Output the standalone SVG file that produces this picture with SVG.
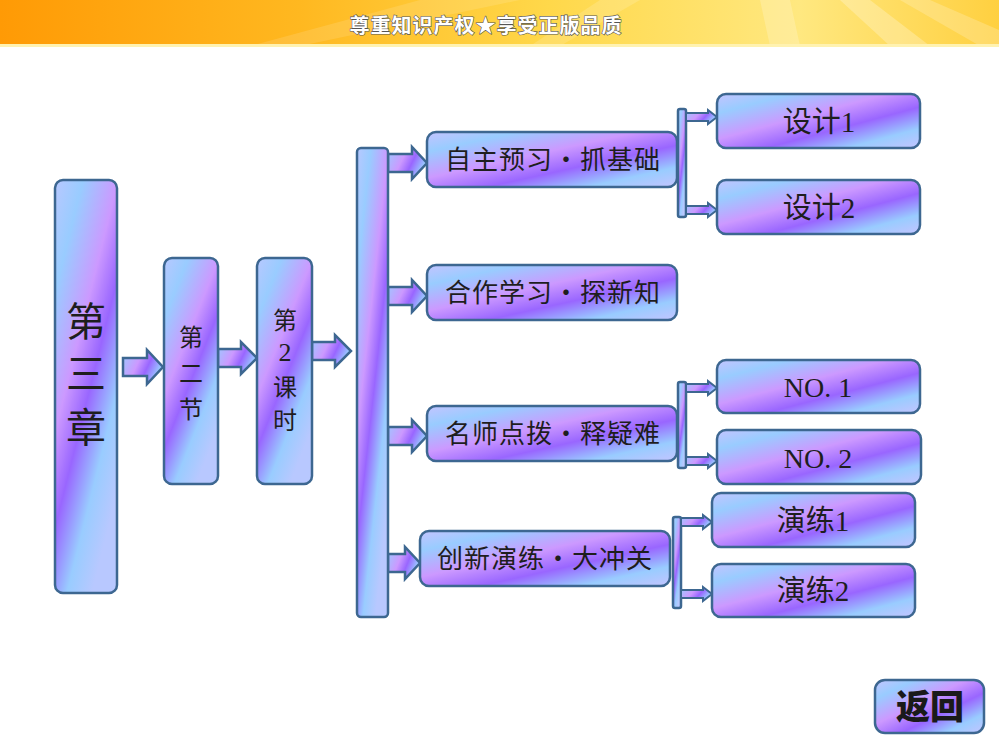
<svg xmlns="http://www.w3.org/2000/svg" width="999" height="750" viewBox="0 0 999 750">
<defs>
<linearGradient id="hdr" x1="0" y1="0" x2="1" y2="0">
<stop offset="0" stop-color="#ff9a05"/>
<stop offset="0.3" stop-color="#ffb820"/>
<stop offset="0.55" stop-color="#ffd84a"/>
<stop offset="0.8" stop-color="#ffe880"/>
<stop offset="1" stop-color="#ffd040"/>
</linearGradient>
<linearGradient id="g" x1="0" y1="0" x2="1" y2="1">
<stop offset="0" stop-color="#c4c4ff"/>
<stop offset="0.18" stop-color="#99ccff"/>
<stop offset="0.42" stop-color="#cc99ff"/>
<stop offset="0.62" stop-color="#9966ff"/>
<stop offset="0.82" stop-color="#99ccff"/>
<stop offset="1" stop-color="#c4c4ff"/>
</linearGradient>
<linearGradient id="gv" x1="0" y1="0" x2="0.6" y2="1">
<stop offset="0" stop-color="#b8c8ff"/>
<stop offset="0.2" stop-color="#99ccff"/>
<stop offset="0.45" stop-color="#cc99ff"/>
<stop offset="0.62" stop-color="#9966ff"/>
<stop offset="0.82" stop-color="#99ccff"/>
<stop offset="1" stop-color="#b8c8ff"/>
</linearGradient>
<linearGradient id="ga" x1="0" y1="0" x2="1" y2="0.4">
<stop offset="0" stop-color="#99ccff"/>
<stop offset="0.45" stop-color="#cc99ff"/>
<stop offset="0.7" stop-color="#9966ff"/>
<stop offset="1" stop-color="#99ccff"/>
</linearGradient>
<style>
.box{fill:url(#g);stroke:#3d6791;stroke-width:2.5}
.bar{fill:url(#gv);stroke:#3d6791;stroke-width:2.5}
.arr{fill:url(#ga);stroke:#3d6791;stroke-width:2.5;stroke-linejoin:miter}
.sarr{fill:url(#ga);stroke:#3d6791;stroke-width:2}
.t{font-family:"Liberation Serif","Noto Sans CJK SC",serif;fill:#1e1e1e;text-anchor:middle}
.lab{font-size:26px;letter-spacing:1px}
.sub{font-size:29px}
.hdrt{font-family:"Noto Sans CJK SC",sans-serif;font-weight:bold;font-size:20px;fill:#ffffff;stroke:#555;stroke-width:1.2;paint-order:stroke;text-anchor:middle}
</style>
</defs>
<rect width="999" height="750" fill="#ffffff"/>
<g id="header">
<rect x="0" y="0" width="999" height="46" fill="url(#hdr)"/>
<polygon points="420,0 520,0 300,46 250,46" fill="#ffffff" opacity="0.12"/>
<polygon points="600,0 640,0 560,46 530,46" fill="#ffffff" opacity="0.15"/>
<polygon points="760,0 790,0 800,46 770,46" fill="#ffffff" opacity="0.2"/>
<polygon points="840,0 870,0 930,46 890,46" fill="#ffffff" opacity="0.25"/>
<polygon points="900,0 930,0 999,30 999,46 980,46" fill="#ffffff" opacity="0.2"/>
<rect x="0" y="44" width="999" height="3" fill="#fff2b0"/>
<text class="hdrt" x="486" y="33" letter-spacing="1">尊重知识产权★享受正版品质</text>
</g>
<g id="connectors">
<path class="arr" d="M123 358 H147 V350 L163 367 L147 384 V376 H123 Z"/>
<path class="arr" d="M218 349 H241 V342 L257 358 L241 374 V367 H218 Z"/>
<path class="arr" d="M312 342 H335 V335 L351 351 L335 367 V360 H312 Z"/>
<path class="arr" d="M388 154 H412 V147 L427 163 L412 179 V172 H388 Z"/>
<path class="arr" d="M388 287 H412 V280 L427 296 L412 312 V305 H388 Z"/>
<path class="arr" d="M388 427 H412 V420 L427 436 L412 452 V445 H388 Z"/>
<path class="arr" d="M388 554 H405 V547 L420 563 L405 579 V572 H388 Z"/>
<rect class="bar" x="678" y="109" width="8" height="108" rx="2"/>
<rect class="bar" x="678" y="382" width="8" height="86" rx="2"/>
<rect class="bar" x="673" y="517" width="8" height="91" rx="2"/>
<path class="sarr" d="M686 113 H708 V110 L717 117 L708 124 V121 H686 Z"/>
<path class="sarr" d="M686 206 H708 V203 L717 210 L708 217 V214 H686 Z"/>
<path class="sarr" d="M686 384 H708 V381 L717 388 L708 395 V392 H686 Z"/>
<path class="sarr" d="M686 457 H708 V454 L717 461 L708 468 V465 H686 Z"/>
<path class="sarr" d="M681 518 H703 V515 L712 522 L703 529 V526 H681 Z"/>
<path class="sarr" d="M681 590 H703 V587 L712 594 L703 601 V598 H681 Z"/>
</g>
<g id="n-chapter">
<rect class="bar" x="55" y="180" width="62" height="413" rx="8"/>
<text class="t" font-size="40" x="86" y="336">第</text>
<text class="t" font-size="40" x="86" y="388">三</text>
<text class="t" font-size="40" x="86" y="442">章</text>
</g>
<g id="n-section">
<rect class="bar" x="164" y="258" width="54" height="226" rx="8"/>
<text class="t" font-size="24" x="191" y="346">第</text>
<text class="t" font-size="24" x="191" y="382">二</text>
<text class="t" font-size="24" x="191" y="418">节</text>
</g>
<g id="n-lesson">
<rect class="bar" x="257" y="258" width="55" height="226" rx="8"/>
<text class="t" font-size="24" x="285" y="329">第</text>
<text class="t" font-size="26" x="285" y="361">2</text>
<text class="t" font-size="24" x="285" y="396">课</text>
<text class="t" font-size="24" x="285" y="429">时</text>
</g>
<g id="n-bar">
<rect class="bar" x="357" y="148" width="31" height="469" rx="4"/>
</g>
<g id="n-zizhu">
<rect class="box" x="427" y="132" width="250" height="55" rx="9"/>
<text class="t lab" x="553" y="169">自主预习・抓基础</text>
</g>
<g id="n-hezuo">
<rect class="box" x="427" y="265" width="250" height="55" rx="9"/>
<text class="t lab" x="553" y="302">合作学习・探新知</text>
</g>
<g id="n-mingshi">
<rect class="box" x="427" y="406" width="250" height="55" rx="9"/>
<text class="t lab" x="553" y="443">名师点拨・释疑难</text>
</g>
<g id="n-chuangxin">
<rect class="box" x="420" y="531" width="250" height="55" rx="9"/>
<text class="t lab" x="545" y="568">创新演练・大冲关</text>
</g>
<g id="n-sheji1">
<rect class="box" x="717" y="94" width="203" height="54" rx="9"/>
<text class="t sub" x="819" y="132">设计1</text>
</g>
<g id="n-sheji2">
<rect class="box" x="717" y="180" width="203" height="54" rx="9"/>
<text class="t sub" x="819" y="218">设计2</text>
</g>
<g id="n-no1">
<rect class="box" x="717" y="360" width="203" height="53" rx="9"/>
<text class="t" font-size="28" x="818" y="397">NO. 1</text>
</g>
<g id="n-no2">
<rect class="box" x="717" y="430" width="204" height="54" rx="9"/>
<text class="t" font-size="28" x="818" y="468">NO. 2</text>
</g>
<g id="n-yanlian1">
<rect class="box" x="712" y="493" width="203" height="54" rx="9"/>
<text class="t sub" x="813" y="531">演练1</text>
</g>
<g id="n-yanlian2">
<rect class="box" x="712" y="564" width="203" height="53" rx="9"/>
<text class="t sub" x="813" y="601">演练2</text>
</g>
<g id="n-back">
<rect class="box" x="875" y="680" width="109" height="53" rx="10"/>
<text x="930" y="719" font-family="Noto Sans CJK SC,sans-serif" font-weight="900" font-size="34" fill="#1a1a1a" text-anchor="middle">返回</text>
</g>
</svg>
